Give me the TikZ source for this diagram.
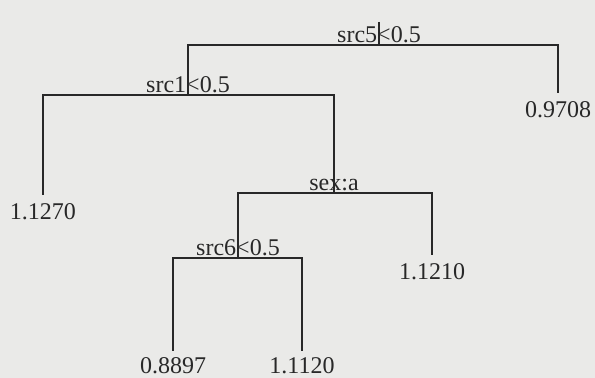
\documentclass[tikz,border=0pt]{standalone}
\usepackage{fontspec}
\setmainfont{Liberation Serif}
\usetikzlibrary{positioning}
\definecolor{paper}{RGB}{234,234,232}
\definecolor{ink}{RGB}{40,40,40}

\begin{document}
\begin{tikzpicture}[x=0.5pt, y=-0.5pt,
	split/.style={inner sep=0pt, text=ink, font=\fontsize{12}{14}\selectfont},
	leaf/.style={inner sep=0pt, text=ink, font=\fontsize{12}{14}\selectfont},
	branch/.style={draw=ink, line width=0.8pt}]
	\fill [paper] (0,0) rectangle (595,378);
	\useasboundingbox (0,0) rectangle (595,378);

	% split points
	\coordinate (top) at (379,22);
	\coordinate (s5) at (379,45);
	\coordinate (s1) at (188,95);
	\coordinate (sx) at (334,193);
	\coordinate (s6) at (238,258);
	% leaf ends
	\coordinate (e1) at (558,93);
	\coordinate (e2) at (43,195);
	\coordinate (e3) at (432,255);
	\coordinate (e4) at (173,351);
	\coordinate (e5) at (302,351);

	% split labels
	\node [split, above=1pt of s5] (l5) {src5<0.5};
	\node [split, above=1pt of s1] (l1) {src1<0.5};
	\node [split, above=1pt of sx] (lx) {sex:a};
	\node [split, above=1pt of s6] (l6) {src6<0.5};

	% leaf values
	\node [leaf, below=4pt of e1] (v1) {0.9708};
	\node [leaf, below=4pt of e2] (v2) {1.1270};
	\node [leaf, below=4pt of e3] (v3) {1.1210};
	\node [leaf, below=3pt of e4] (v4) {0.8897};
	\node [leaf, below=3pt of e5] (v5) {1.1120};

	% branches
	\draw [branch] (top) -- (s5);
	\draw [branch] (s5) -| (s1);
	\draw [branch] (s5) -| (e1);
	\draw [branch] (s1) -| (e2);
	\draw [branch] (s1) -| (sx);
	\draw [branch] (sx) -| (s6);
	\draw [branch] (sx) -| (e3);
	\draw [branch] (s6) -| (e4);
	\draw [branch] (s6) -| (e5);
\end{tikzpicture}
\end{document}
